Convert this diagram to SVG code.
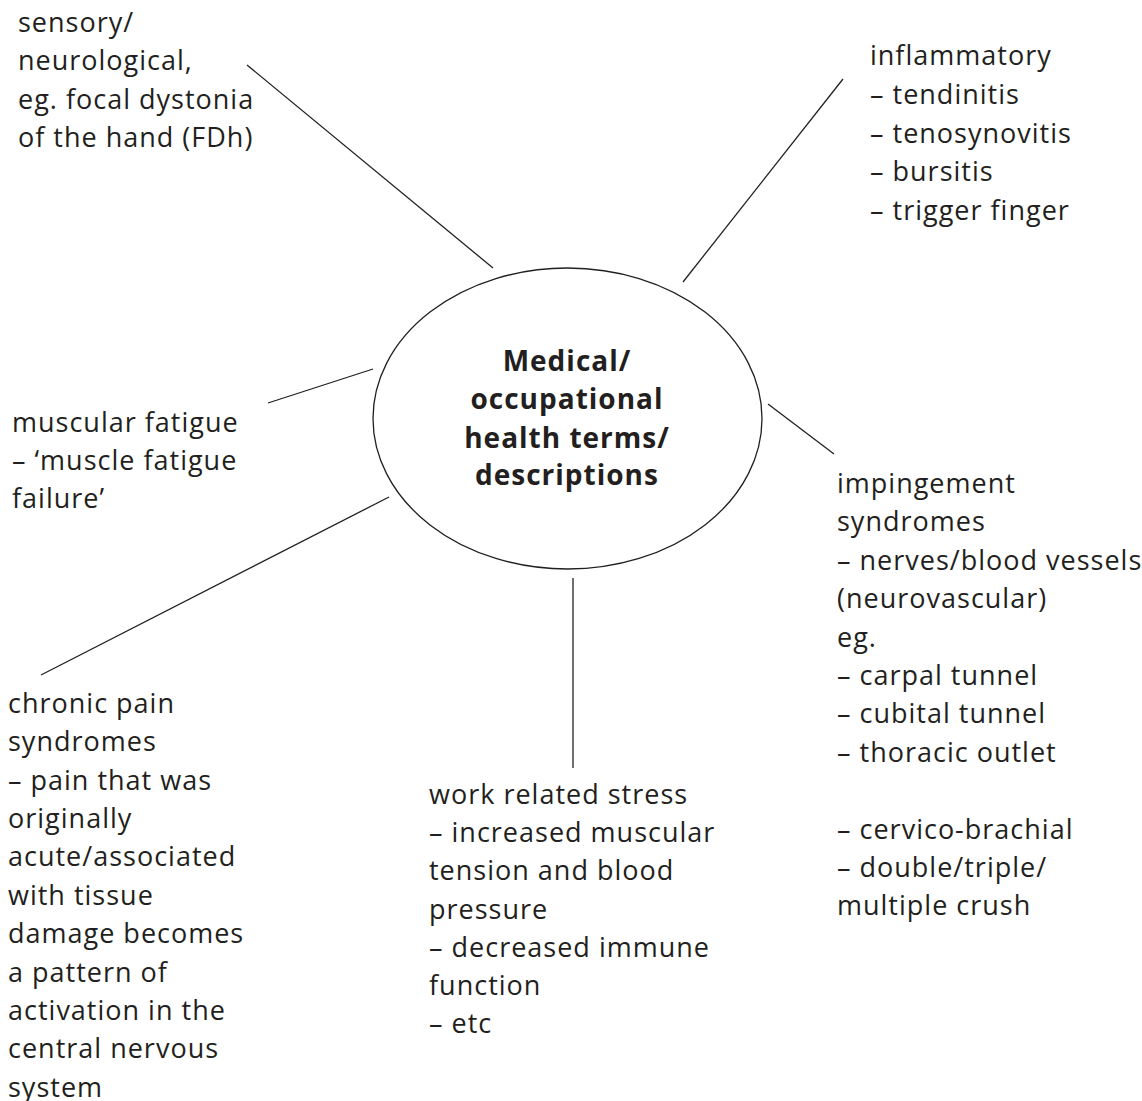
<svg xmlns="http://www.w3.org/2000/svg" width="1142" height="1101" viewBox="0 0 1142 1101">
<style>
.t{font-family:"Open Sans","Liberation Sans",sans-serif;font-size:27px;letter-spacing:1px;fill:#231f20}
.b{font-family:"Open Sans","Liberation Sans",sans-serif;font-size:28px;font-weight:bold;letter-spacing:1px;fill:#231f20;text-anchor:middle}
.c line{stroke:#231f20;stroke-width:1.3;fill:none}
.e{stroke:#231f20;stroke-width:1.3;fill:#fff}
</style>
<rect width="1142" height="1101" fill="#fff"/>
<g id="connectors" class="c">
<line x1="247" y1="65" x2="493" y2="268"/>
<line x1="843" y1="79" x2="683" y2="282"/>
<line x1="268" y1="403" x2="373" y2="369"/>
<line x1="389" y1="497" x2="41" y2="675"/>
<line x1="573" y1="578" x2="573" y2="768"/>
<line x1="768" y1="404" x2="834" y2="454"/>
</g>
<g id="center">
<ellipse class="e" cx="567.5" cy="418.5" rx="194.5" ry="150.5"/>
<text class="b" x="567" y="371">Medical/</text>
<text class="b" x="567" y="409">occupational</text>
<text class="b" x="567" y="448">health terms/</text>
<text class="b" x="567" y="485">descriptions</text>
</g>
<g id="sensory">
<text class="t" x="18" y="32">sensory/</text>
<text class="t" x="18" y="70.4">neurological,</text>
<text class="t" x="18" y="108.8">eg. focal dystonia</text>
<text class="t" x="18" y="147.2">of the hand (FDh)</text>
</g>
<g id="inflammatory">
<text class="t" x="870" y="65">inflammatory</text>
<text class="t" x="870" y="103.8">– tendinitis</text>
<text class="t" x="870" y="142.6">– tenosynovitis</text>
<text class="t" x="870" y="181.4">– bursitis</text>
<text class="t" x="870" y="220.2">– trigger finger</text>
</g>
<g id="muscular">
<text class="t" x="12" y="432">muscular fatigue</text>
<text class="t" x="12" y="470">– ‘muscle fatigue</text>
<text class="t" x="12" y="508">failure’</text>
</g>
<g id="impingement">
<text class="t" x="837" y="493">impingement</text>
<text class="t" x="837" y="531.4">syndromes</text>
<text class="t" x="837" y="569.8">– nerves/blood vessels</text>
<text class="t" x="837" y="608.2">(neurovascular)</text>
<text class="t" x="837" y="646.6">eg.</text>
<text class="t" x="837" y="685">– carpal tunnel</text>
<text class="t" x="837" y="723.4">– cubital tunnel</text>
<text class="t" x="837" y="761.8">– thoracic outlet</text>
<text class="t" x="837" y="838.6">– cervico-brachial</text>
<text class="t" x="837" y="877">– double/triple/</text>
<text class="t" x="837" y="915.4">multiple crush</text>
</g>
<g id="stress">
<text class="t" x="429" y="804">work related stress</text>
<text class="t" x="429" y="842.2">– increased muscular</text>
<text class="t" x="429" y="880.4">tension and blood</text>
<text class="t" x="429" y="918.6">pressure</text>
<text class="t" x="429" y="956.8">– decreased immune</text>
<text class="t" x="429" y="995">function</text>
<text class="t" x="429" y="1033.2">– etc</text>
</g>
<g id="chronic">
<text class="t" x="8" y="712.7">chronic pain</text>
<text class="t" x="8" y="751.1">syndromes</text>
<text class="t" x="8" y="789.5">– pain that was</text>
<text class="t" x="8" y="827.9">originally</text>
<text class="t" x="8" y="866.3">acute/associated</text>
<text class="t" x="8" y="904.7">with tissue</text>
<text class="t" x="8" y="943.1">damage becomes</text>
<text class="t" x="8" y="981.5">a pattern of</text>
<text class="t" x="8" y="1019.9">activation in the</text>
<text class="t" x="8" y="1058.3">central nervous</text>
<text class="t" x="8" y="1096.7">system</text>
</g>
</svg>
